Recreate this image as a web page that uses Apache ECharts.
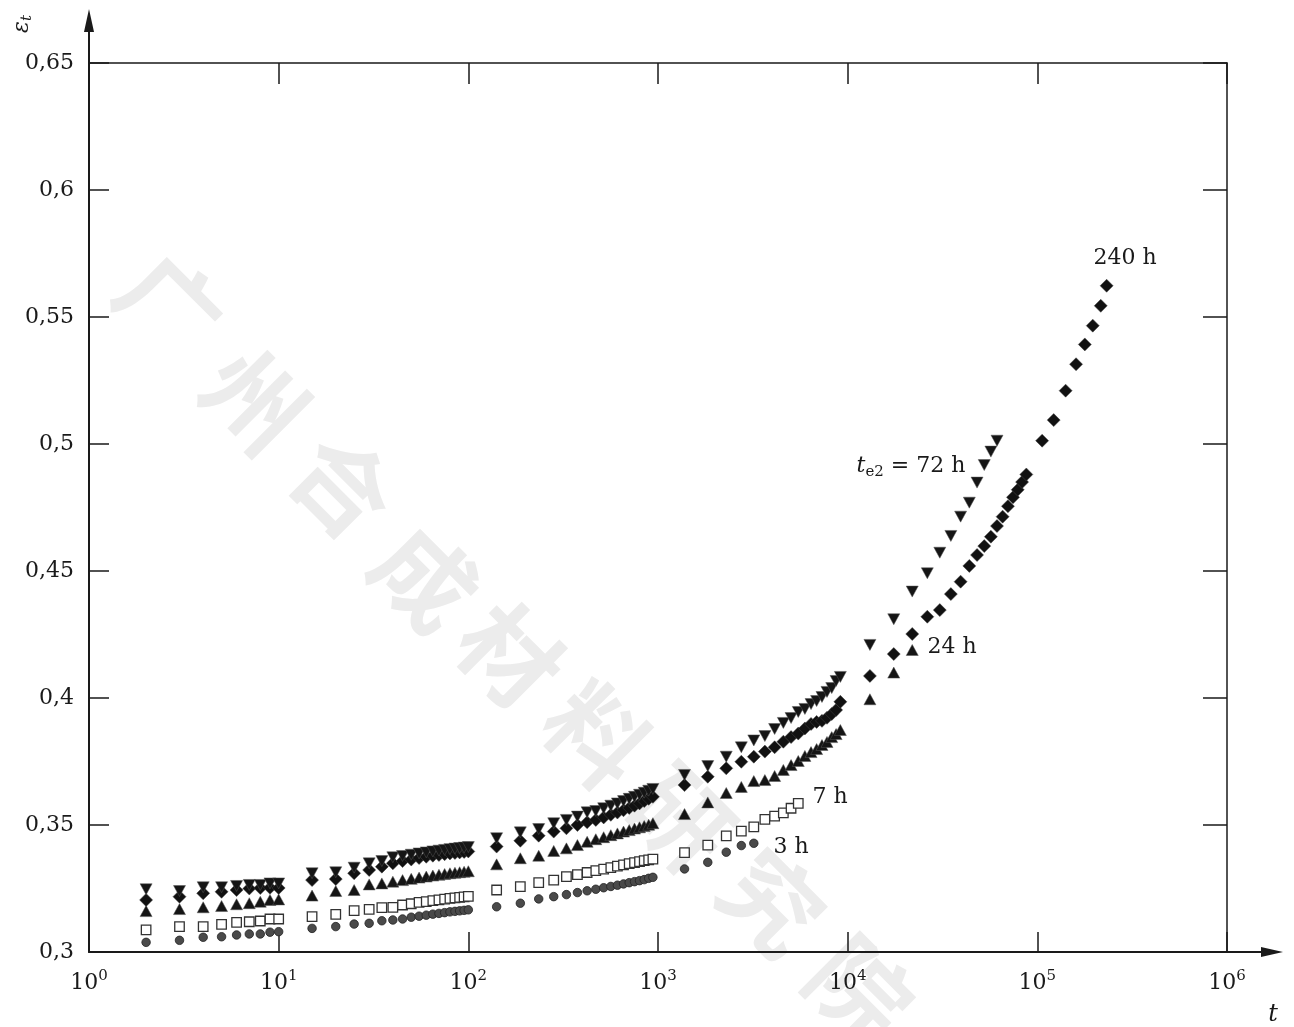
<!DOCTYPE html>
<html>
<head>
<meta charset="utf-8">
<script src="https://cdn.jsdelivr.net/npm/echarts/dist/echarts.min.js"></script>
<style>
html,body{margin:0;padding:0;background:#fff;}
#chart{width:1294px;height:1027px;}
</style>
</head>
<body>
<div id="chart"></div>
<script>
// ---- time samples ----
const tA = [2, 3, 4, 5, 6, 7, 8, 9, 10];
const tB = [15, 20, 25, 30, 35, 40, 45, 50, 55, 60, 65, 70, 75, 80, 85, 90, 95, 100];
const tC = [141, 188, 235, 282, 329, 376, 423, 470, 517, 564, 611, 658, 705, 752, 799, 846, 893, 940];
const tD = [1380, 1830, 2290, 2750, 3200, 3660, 4120, 4580, 5030, 5490, 5950, 6410, 6860, 7320, 7780, 8240, 8690, 9150];
const tE = [13100, 17500, 21900, 26300, 30600, 35000, 39400, 43800, 48100, 52500, 56900, 61300, 65600, 70000, 74400, 78800, 83100, 87500];
const tF = [106000, 122000, 141000, 160000, 178000, 196000, 216000, 232000];

// ---- strain values per ageing time ----
const eps3h = [
  0.3038, 0.3046, 0.3058, 0.3060, 0.3067, 0.3071, 0.3071, 0.3078, 0.3080,
  0.3093, 0.3100, 0.3110, 0.3113, 0.3123, 0.3126, 0.3130, 0.3137, 0.3141, 0.3145, 0.3149, 0.3152, 0.3155, 0.3158, 0.3160, 0.3162, 0.3164, 0.3166,
  0.3178, 0.3192, 0.3209, 0.3218, 0.3226, 0.3234, 0.3241, 0.3247, 0.3253, 0.3258, 0.3263, 0.3268, 0.3273, 0.3277, 0.3281, 0.3285, 0.3290, 0.3294,
  0.3327, 0.3353, 0.3393, 0.3419, 0.3428
];
const eps7h = [
  0.3087, 0.3100, 0.3100, 0.3109, 0.3117, 0.3119, 0.3122, 0.3130, 0.3130,
  0.3139, 0.3148, 0.3163, 0.3168, 0.3175, 0.3176, 0.3185, 0.3190, 0.3195, 0.3198, 0.3202, 0.3205, 0.3208, 0.3211, 0.3213, 0.3215, 0.3217, 0.3219,
  0.3244, 0.3257, 0.3273, 0.3283, 0.3297, 0.3305, 0.3313, 0.3320, 0.3326, 0.3332, 0.3338, 0.3343, 0.3348, 0.3352, 0.3356, 0.3360, 0.3363, 0.3366,
  0.3391, 0.3421, 0.3457, 0.3476, 0.3493, 0.3522, 0.3535, 0.3548, 0.3566, 0.3585
];
const eps24h = [
  0.3161, 0.3169, 0.3176, 0.3181, 0.3188, 0.3192, 0.3198, 0.3205, 0.3207,
  0.3222, 0.3240, 0.3244, 0.3266, 0.3270, 0.3277, 0.3283, 0.3288, 0.3293, 0.3297, 0.3301, 0.3304, 0.3307, 0.3310, 0.3312, 0.3314, 0.3316, 0.3318,
  0.3345, 0.3369, 0.3379, 0.3398, 0.3408, 0.3421, 0.3434, 0.3444, 0.3452, 0.3460, 0.3467, 0.3474, 0.3480, 0.3486, 0.3491, 0.3496, 0.3501, 0.3507,
  0.3543, 0.3589, 0.3626, 0.3650, 0.3673, 0.3677, 0.3693, 0.3717, 0.3736, 0.3752, 0.3772, 0.3787, 0.3799, 0.3815, 0.3827, 0.3846, 0.3858, 0.3874,
  0.3995, 0.4100, 0.4189
];
const eps72h = [
  0.3247, 0.3240, 0.3255, 0.3255, 0.3260, 0.3264, 0.3264, 0.3270, 0.3270,
  0.3310, 0.3314, 0.3332, 0.3349, 0.3358, 0.3373, 0.3378, 0.3383, 0.3388, 0.3392, 0.3396, 0.3399, 0.3402, 0.3405, 0.3407, 0.3409, 0.3411, 0.3413,
  0.3448, 0.3471, 0.3484, 0.3507, 0.3520, 0.3533, 0.3550, 0.3555, 0.3566, 0.3576, 0.3585, 0.3594, 0.3603, 0.3611, 0.3619, 0.3627, 0.3635, 0.3642,
  0.3697, 0.3732, 0.3769, 0.3806, 0.3833, 0.3850, 0.3878, 0.3902, 0.3921, 0.3945, 0.3957, 0.3976, 0.3988, 0.4004, 0.4024, 0.4039, 0.4067, 0.4083,
  0.4209, 0.4310, 0.4419, 0.4491, 0.4572, 0.4638, 0.4714, 0.4769, 0.4848, 0.4917, 0.4970, 0.5013
];
const eps240h = [
  0.3205, 0.3218, 0.3231, 0.3237, 0.3244, 0.3250, 0.3252, 0.3253, 0.3252,
  0.3283, 0.3287, 0.3310, 0.3323, 0.3336, 0.3349, 0.3358, 0.3364, 0.3370, 0.3375, 0.3379, 0.3382, 0.3385, 0.3388, 0.3390, 0.3392, 0.3394, 0.3396,
  0.3415, 0.3438, 0.3458, 0.3474, 0.3487, 0.3500, 0.3511, 0.3520, 0.3530, 0.3540, 0.3549, 0.3558, 0.3567, 0.3576, 0.3585, 0.3594, 0.3603, 0.3611,
  0.3657, 0.3690, 0.3723, 0.3749, 0.3769, 0.3789, 0.3806, 0.3828, 0.3846, 0.3860, 0.3880, 0.3898, 0.3906, 0.3910, 0.3922, 0.3937, 0.3953, 0.3985,
  0.4087, 0.4173, 0.4252, 0.4320, 0.4346, 0.4409, 0.4458, 0.4520, 0.4563, 0.4598, 0.4635, 0.4677, 0.4714, 0.4755, 0.4790, 0.4820, 0.4850, 0.4880,
  0.5013, 0.5094, 0.5210, 0.5314, 0.5392, 0.5466, 0.5544, 0.5623
];

// ---- axis ranges / ticks ----
const xMin = 1, xMax = 1e6;
const yMin = 0.3, yMax = 0.65, yStep = 0.05;

// ---- curve labels ----
const seriesLabels = ['3 h', '7 h', '24 h', '72 h', '240 h'];
const watermark = '广州合成材料研究院';

const tAll = [].concat(tA, tB, tC, tD, tE, tF);
const pair = vals => vals.map((v, i) => [tAll[i], v]);

// layout
const GL = 89, GT = 63, GW = 1138, GH = 889;
const GB = GT + GH, GR = GL + GW;
const SERIF = 'DejaVu Serif';
const INK = '#1a1a1a';

const chart = echarts.init(document.getElementById('chart'), null, {renderer: 'canvas'});

const wmPos = [[170,305],[255,400],[343,485],[425,578],[510,655],[597,735],[681,818],[772,902],[860,990]];
const wmGraphics = watermark.split('').map((ch, i) => ({
  type: 'text', x: wmPos[i][0], y: wmPos[i][1], rotation: -Math.PI / 4, z: -10,
  style: {text: ch, fontSize: 98, fontFamily: 'Noto Sans CJK SC', fontWeight: 'bold',
          fill: '#ececec', align: 'center', verticalAlign: 'middle'}
}));

function plainLabel(text, x, y) {
  return {type: 'text', x: x, y: y, z: 10,
    style: {text: text, fontSize: 22, fontFamily: SERIF, fill: INK, align: 'center', verticalAlign: 'middle'}};
}

const option = {
  animation: false,
  backgroundColor: '#ffffff',
  grid: {left: GL, top: GT, width: GW, height: GH, containLabel: false, outerBoundsMode: 'none'},
  xAxis: [{
    type: 'log', logBase: 10, min: xMin, max: xMax, position: 'bottom', splitNumber: 6,
    axisLine: {show: true, lineStyle: {color: INK, width: 2}},
    axisTick: {show: true, inside: true, length: 20, lineStyle: {color: INK, width: 1.5}},
    minorTick: {show: false}, splitLine: {show: false},
    axisLabel: {
      margin: 17,
      formatter: v => '{b|10}{s|' + Math.round(Math.log10(v)) + '}',
      rich: {
        b: {fontSize: 22, fontFamily: SERIF, color: INK, lineHeight: 28},
        s: {fontSize: 15, fontFamily: SERIF, color: INK, lineHeight: 13, verticalAlign: 'top'}
      }
    }
  }, {
    type: 'log', logBase: 10, min: xMin, max: xMax, position: 'top', splitNumber: 6,
    axisLine: {show: true, lineStyle: {color: INK, width: 1.5}},
    axisTick: {show: true, inside: true, length: 21, lineStyle: {color: INK, width: 1.5}},
    axisLabel: {show: false}, splitLine: {show: false}
  }],
  yAxis: [{
    type: 'value', min: yMin, max: yMax, interval: yStep, position: 'left',
    axisLine: {show: true, lineStyle: {color: INK, width: 2}},
    axisTick: {show: true, inside: true, length: 20, lineStyle: {color: INK, width: 1.5}},
    splitLine: {show: false},
    axisLabel: {
      margin: 15, fontSize: 22, fontFamily: SERIF, color: INK,
      formatter: v => String(parseFloat(v.toFixed(2))).replace('.', ',')
    }
  }, {
    type: 'value', min: yMin, max: yMax, interval: yStep, position: 'right',
    axisLine: {show: true, lineStyle: {color: INK, width: 1.5}},
    axisTick: {show: true, inside: true, length: 24, lineStyle: {color: INK, width: 1.5}},
    axisLabel: {show: false}, splitLine: {show: false}
  }],
  series: [
    {name: seriesLabels[0], type: 'scatter', data: pair(eps3h), symbol: 'circle', symbolSize: 8.5,
     itemStyle: {color: '#4a4a4a', borderColor: '#222', borderWidth: 0.8, opacity: 1}},
    {name: seriesLabels[1], type: 'scatter', data: pair(eps7h), symbol: 'rect', symbolSize: 9.5,
     itemStyle: {color: '#ffffff', borderColor: '#333', borderWidth: 1.3, opacity: 1}},
    {name: seriesLabels[2], type: 'scatter', data: pair(eps24h), symbol: 'triangle', symbolSize: [12, 11],
     itemStyle: {color: '#151515', borderColor: '#555', borderWidth: 0.5, opacity: 1}},
    {name: seriesLabels[4], type: 'scatter', data: pair(eps240h), symbol: 'diamond', symbolSize: [13, 13],
     itemStyle: {color: '#111', borderColor: '#444', borderWidth: 0.5, opacity: 1}},
    {name: seriesLabels[3], type: 'scatter', data: pair(eps72h), symbol: 'triangle', symbolRotate: 180, symbolSize: [12, 11],
     itemStyle: {color: '#151515', borderColor: '#555', borderWidth: 0.5, opacity: 1}}
  ],
  graphic: wmGraphics.concat([
    // axis extensions with arrows
    {type: 'line', z: 10, shape: {x1: GL, y1: GT, x2: GL, y2: 24}, style: {stroke: INK, lineWidth: 2}},
    {type: 'polygon', z: 10, shape: {points: [[GL, 9], [GL - 5, 32], [GL + 5, 32]]}, style: {fill: INK}},
    {type: 'line', z: 10, shape: {x1: GR, y1: GB, x2: 1266, y2: GB}, style: {stroke: INK, lineWidth: 2}},
    {type: 'polygon', z: 10, shape: {points: [[1283, GB], [1261, GB - 5], [1261, GB + 5]]}, style: {fill: INK}},
    // axis titles
    {type: 'text', x: 1273, y: 1015, z: 10,
     style: {text: 't', fontSize: 24, fontFamily: SERIF, fontStyle: 'italic', fill: INK, align: 'center', verticalAlign: 'middle'}},
    {type: 'text', x: 22, y: 24, z: 10, rotation: Math.PI / 2,
     style: {text: '{e|ε}{t|t}', align: 'center', verticalAlign: 'middle',
       rich: {
         e: {fontSize: 22, fontFamily: SERIF, fontStyle: 'italic', fill: INK, lineHeight: 26},
         t: {fontSize: 15, fontFamily: SERIF, fontStyle: 'italic', fill: INK, lineHeight: 15, verticalAlign: 'bottom'}
       }}},
    // curve labels
    plainLabel(seriesLabels[4], 1125, 258),
    plainLabel(seriesLabels[2], 952, 647),
    plainLabel(seriesLabels[1], 830, 797),
    plainLabel(seriesLabels[0], 791, 847),
    {type: 'text', x: 911, y: 466, z: 10,
     style: {text: '{t|t}{s|e2}{n| = ' + seriesLabels[3] + '}', align: 'center', verticalAlign: 'middle',
       rich: {
         t: {fontSize: 22, fontFamily: SERIF, fontStyle: 'italic', fill: INK, lineHeight: 28},
         s: {fontSize: 15, fontFamily: SERIF, fill: INK, lineHeight: 15, verticalAlign: 'bottom'},
         n: {fontSize: 22, fontFamily: SERIF, fill: INK, lineHeight: 28}
       }}}
  ])
};

chart.setOption(option);
</script>
</body>
</html>
